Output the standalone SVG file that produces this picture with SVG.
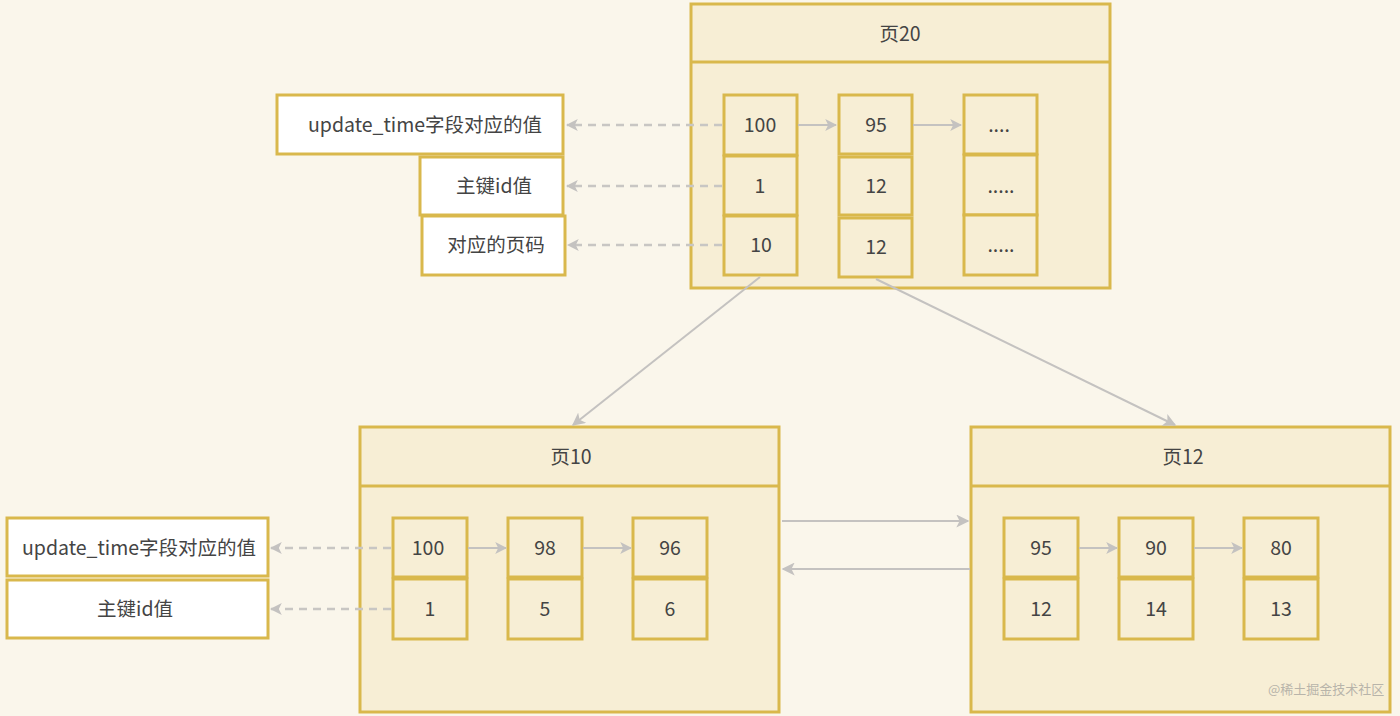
<svg xmlns="http://www.w3.org/2000/svg" width="1400" height="716" viewBox="0 0 1400 716">
<style>
.pg{fill:#f7eed5;stroke:#d9b84c;stroke-width:3}
.cell{fill:#f7eed5;stroke:#d9b84c;stroke-width:3}
.lbl{fill:#ffffff;stroke:#d9b84c;stroke-width:3}
text{font-family:"Noto Sans CJK SC","Liberation Sans",sans-serif;font-size:19.5px;fill:#444;text-anchor:middle;dominant-baseline:central;transform:translateY(-2px)}
.wm{font-size:13px;fill:#b8b4aa;text-anchor:start}
.ln{stroke:#c4c2c0;stroke-width:2;fill:none}
.dash{stroke:#c8c6c3;stroke-width:2.5;fill:none;stroke-dasharray:8 6}
</style>
<defs>
<marker id="ah" viewBox="0 0 10 10" refX="9" refY="5" markerWidth="12" markerHeight="12" markerUnits="userSpaceOnUse" orient="auto"><path d="M0,0 L10,5 L0,10 L2.5,5 Z" fill="#c4c2c0"/></marker>
<marker id="ahb" viewBox="0 0 10 10" refX="9" refY="5" markerWidth="13" markerHeight="13" markerUnits="userSpaceOnUse" orient="auto"><path d="M0,0 L10,5 L0,10 L2.5,5 Z" fill="#c4c2c0"/></marker>
</defs>
<rect x="0" y="0" width="1400" height="716" fill="#faf6eb"/>

<g id="page20">
<rect class="pg" x="691" y="4" width="419" height="284"/>
<line x1="691" y1="62" x2="1110" y2="62" stroke="#d9b84c" stroke-width="3"/>
<text x="900" y="34">页20</text>
<rect class="cell" x="724" y="95" width="73" height="60"/><text x="760" y="125">100</text>
<rect class="cell" x="724" y="156" width="73" height="59"/><text x="760" y="186">1</text>
<rect class="cell" x="724" y="216" width="73" height="59"/><text x="761" y="245">10</text>
<rect class="cell" x="839" y="95" width="73" height="59"/><text x="876" y="125">95</text>
<rect class="cell" x="839" y="157" width="73" height="58"/><text x="876" y="186">12</text>
<rect class="cell" x="839" y="218" width="73" height="59"/><text x="876" y="247">12</text>
<rect class="cell" x="964" y="95" width="73" height="59"/><text x="999" y="125">....</text>
<rect class="cell" x="964" y="155" width="73" height="60"/><text x="1001" y="186">.....</text>
<rect class="cell" x="964" y="215" width="73" height="60"/><text x="1001" y="245">.....</text>
</g>

<g id="label-top-1"><rect class="lbl" x="277" y="95" width="286" height="59"/><text x="425" y="125">update_time字段对应的值</text></g>
<g id="label-top-2"><rect class="lbl" x="420" y="157" width="143" height="58"/><text x="494" y="186">主键id值</text></g>
<g id="label-top-3"><rect class="lbl" x="422" y="216" width="143" height="59"/><text x="496" y="245">对应的页码</text></g>

<g id="page10">
<rect class="pg" x="360" y="427" width="419" height="285"/>
<line x1="360" y1="486" x2="779" y2="486" stroke="#d9b84c" stroke-width="3"/>
<text x="571" y="457">页10</text>
<rect class="cell" x="393" y="518" width="74" height="59"/><text x="428" y="548">100</text>
<rect class="cell" x="393" y="579" width="74" height="60"/><text x="430" y="609">1</text>
<rect class="cell" x="508" y="518" width="74" height="59"/><text x="545" y="548">98</text>
<rect class="cell" x="508" y="579" width="74" height="60"/><text x="545" y="609">5</text>
<rect class="cell" x="633" y="518" width="74" height="59"/><text x="670" y="548">96</text>
<rect class="cell" x="633" y="579" width="74" height="60"/><text x="670" y="609">6</text>
</g>

<g id="page12">
<rect class="pg" x="971" y="427" width="419" height="285"/>
<line x1="971" y1="486" x2="1390" y2="486" stroke="#d9b84c" stroke-width="3"/>
<text x="1183" y="457">页12</text>
<rect class="cell" x="1004" y="518" width="74" height="59"/><text x="1041" y="548">95</text>
<rect class="cell" x="1004" y="579" width="74" height="60"/><text x="1041" y="609">12</text>
<rect class="cell" x="1119" y="518" width="74" height="59"/><text x="1156" y="548">90</text>
<rect class="cell" x="1119" y="579" width="74" height="60"/><text x="1156" y="609">14</text>
<rect class="cell" x="1244" y="518" width="74" height="59"/><text x="1281" y="548">80</text>
<rect class="cell" x="1244" y="579" width="74" height="60"/><text x="1281" y="609">13</text>
</g>

<g id="label-bottom-1"><rect class="lbl" x="7" y="518" width="261" height="58"/><text x="139" y="548">update_time字段对应的值</text></g>
<g id="label-bottom-2"><rect class="lbl" x="7" y="580" width="261" height="58"/><text x="135" y="609">主键id值</text></g>

<g id="connectors">
<line class="dash" x1="722" y1="125" x2="567" y2="125" marker-end="url(#ah)"/>
<line class="dash" x1="722" y1="186" x2="567" y2="186" marker-end="url(#ah)"/>
<line class="dash" x1="722" y1="245" x2="568" y2="245" marker-end="url(#ah)"/>
<line class="ln" x1="798" y1="125" x2="836" y2="125" marker-end="url(#ah)"/>
<line class="ln" x1="913" y1="125" x2="961" y2="125" marker-end="url(#ah)"/>
<line class="ln" x1="760" y1="277" x2="573" y2="425" marker-end="url(#ahb)"/>
<line class="ln" x1="876" y1="279" x2="1175" y2="425" marker-end="url(#ahb)"/>
<line class="dash" x1="391" y1="548" x2="271" y2="548" marker-end="url(#ah)"/>
<line class="dash" x1="391" y1="609" x2="271" y2="609" marker-end="url(#ah)"/>
<line class="ln" x1="468" y1="548" x2="506" y2="548" marker-end="url(#ah)"/>
<line class="ln" x1="583" y1="548" x2="631" y2="548" marker-end="url(#ah)"/>
<line class="ln" x1="1079" y1="548" x2="1117" y2="548" marker-end="url(#ah)"/>
<line class="ln" x1="1194" y1="548" x2="1242" y2="548" marker-end="url(#ah)"/>
<line class="ln" x1="782" y1="521" x2="968" y2="521" marker-end="url(#ahb)"/>
<line class="ln" x1="970" y1="569" x2="783" y2="569" marker-end="url(#ahb)"/>
</g>

<text class="wm" x="1268" y="690">@稀土掘金技术社区</text>
</svg>
